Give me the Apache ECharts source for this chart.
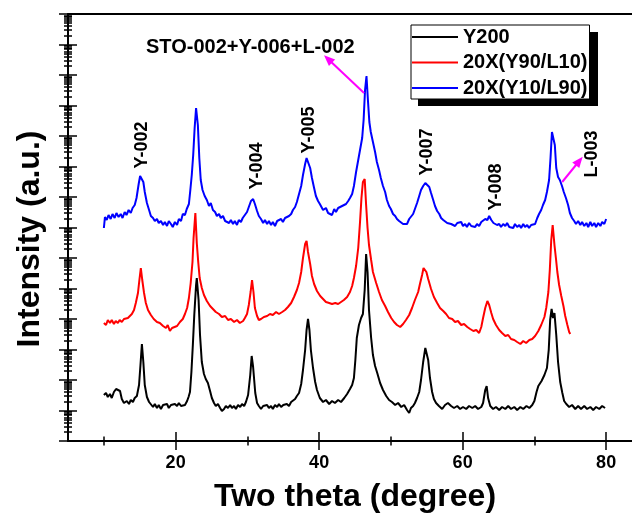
<!DOCTYPE html>
<html>
<head>
<meta charset="utf-8">
<title>XRD patterns</title>
<script src="https://cdn.jsdelivr.net/npm/echarts@6/dist/echarts.min.js"></script>
<style>
  html, body { margin: 0; padding: 0; background: #fff; }
  #chart { width: 632px; height: 513px; }
</style>
</head>
<body>
<div id="chart"></div>
<script>
// Series names (legend order)
const seriesNames = ['Y200', '20X(Y90/L10)', '20X(Y10/L90)'];
const seriesColors = ['#000000', '#ff0000', '#0000ff'];

// Axis ticks
const xMajorTicks = [20, 40, 60, 80];
const xMinorTicks = [10, 30, 50, 70];
const yDecadeCount = 14;

// Intensity (a.u., stacked offsets as plotted) vs two theta
const y200 = [
  [10.0,46],[10.3,48],[10.55,44],[10.85,47],[11.1,43],[11.4,49],[11.7,52],[11.95,53],[12.25,50],[12.5,42],
  [12.8,38],[13.2,40],[13.5,37],[13.75,41],[14.05,39],[14.3,43],[14.6,45],[14.9,56],[15.1,76],[15.3,97],
  [15.5,79],[15.7,56],[16.0,44],[16.3,39],[16.55,37],[16.85,34],[17.1,37],[17.4,33],[17.65,36],[17.95,32],
  [18.25,36],[18.5,34],[18.8,37],[19.05,33],[19.35,36],[19.6,34],[19.9,37],[20.2,35],[20.45,38],[20.75,35],
  [21.0,37],[21.3,36],[21.6,40],[21.8,44],[22.0,49],[22.2,69],[22.4,96],[22.6,126],[22.85,156],[22.95,163],
  [23.2,141],[23.4,106],[23.65,79],[23.95,67],[24.2,62],[24.5,58],[24.8,50],[25.05,43],[25.35,38],[25.6,35],
  [25.9,37],[26.2,33],[26.45,30],[26.75,32],[27.0,35],[27.3,33],[27.6,36],[27.85,33],[28.15,35],[28.4,32],
  [28.7,36],[29.0,34],[29.25,37],[29.55,35],[29.8,39],[30.1,46],[30.4,66],[30.6,85],[30.8,74],[31.1,48],
  [31.35,38],[31.6,35],[31.9,32],[32.2,35],[32.45,33],[32.75,36],[33.0,33],[33.3,35],[33.55,32],[33.85,36],
  [34.15,34],[34.4,37],[34.7,34],[35.0,36],[35.25,34],[35.5,37],[35.8,35],[36.1,39],[36.35,38],[36.65,42],
  [36.9,45],[37.2,48],[37.5,57],[37.75,71],[38.05,91],[38.25,111],[38.45,122],[38.65,111],[38.85,91],[39.15,73],
  [39.45,59],[39.7,51],[40.1,43],[40.55,39],[40.95,41],[41.4,37],[41.8,40],[42.2,38],[42.65,41],[43.05,39],
  [43.5,43],[43.9,47],[44.3,52],[44.6,56],[44.85,63],[45.05,81],[45.25,103],[45.55,116],[45.85,123],[46.1,127],
  [46.35,151],[46.55,187],[46.75,169],[46.95,131],[47.25,103],[47.5,86],[47.8,75],[48.1,68],[48.5,58],[48.9,51],
  [49.35,45],[49.75,41],[50.15,39],[50.6,36],[51.0,38],[51.45,34],[51.85,36],[52.25,31],[52.55,28],[52.8,33],
  [53.1,35],[53.35,38],[53.65,43],[53.95,49],[54.2,61],[54.5,79],[54.8,93],[55.0,94],[55.2,81],[55.45,63],
  [55.75,49],[56.0,42],[56.3,38],[56.7,35],[57.15,32],[57.55,36],[57.95,38],[58.4,35],[58.8,33],[59.25,35],
  [59.65,32],[60.05,34],[60.5,32],[60.9,35],[61.35,33],[61.75,35],[62.15,32],[62.6,34],[62.85,38],[63.15,51],
  [63.35,55],[63.55,43],[63.85,35],[64.25,32],[64.65,34],[65.1,31],[65.5,34],[65.95,32],[66.35,35],[66.75,32],
  [67.2,34],[67.6,31],[68.05,34],[68.45,32],[68.9,35],[69.3,33],[69.7,36],[70.0,40],[70.3,49],[70.55,55],
  [71.0,60],[71.4,66],[71.75,73],[72.0,91],[72.2,121],[72.4,132],[72.6,123],[72.8,128],[73.05,106],[73.3,79],
  [73.6,59],[73.9,48],[74.15,40],[74.45,37],[74.85,34],[75.25,36],[75.7,32],[76.1,35],[76.5,32],[76.95,35],
  [77.35,32],[77.8,34],[78.2,31],[78.6,34],[79.05,32],[79.45,35],[79.85,33]
];

const y90l10 = [
  [10.0,118],[10.3,116],[10.55,121],[10.85,118],[11.1,121],[11.4,117],[11.65,120],[11.95,118],[12.2,121],[12.5,119],
  [12.8,122],[13.05,120],[13.35,123],[13.6,124],[13.9,127],[14.2,131],[14.45,138],[14.75,148],[14.95,161],[15.15,173],
  [15.35,161],[15.6,148],[15.85,138],[16.15,131],[16.55,126],[16.95,122],[17.4,119],[17.8,118],[18.25,115],[18.65,113],
  [18.9,116],[19.2,110],[19.5,113],[19.75,114],[20.2,115],[20.6,119],[21.0,122],[21.3,127],[21.6,133],[21.85,143],
  [22.1,158],[22.35,179],[22.5,203],[22.75,228],[22.95,198],[23.15,179],[23.35,163],[23.65,153],[23.95,146],[24.35,140],
  [24.8,135],[25.2,132],[25.6,129],[26.05,127],[26.45,124],[26.9,125],[27.3,121],[27.7,122],[28.15,119],[28.55,121],
  [28.95,118],[29.4,120],[29.65,123],[29.95,127],[30.2,136],[30.45,149],[30.65,161],[30.85,149],[31.05,133],[31.35,125],
  [31.6,121],[31.9,122],[32.3,124],[32.75,125],[33.15,127],[33.55,126],[34.0,129],[34.4,127],[34.85,129],[35.25,131],
  [35.65,134],[36.1,138],[36.5,144],[36.9,151],[37.2,158],[37.5,169],[37.75,183],[38.05,197],[38.25,200],[38.45,189],
  [38.75,177],[39.0,165],[39.3,157],[39.7,150],[40.15,145],[40.55,142],[40.95,139],[41.4,138],[41.8,137],[42.25,138],
  [42.65,137],[43.05,139],[43.45,141],[43.9,144],[44.3,149],[44.6,155],[44.85,163],[45.15,175],[45.45,193],[45.7,219],
  [45.9,243],[46.1,259],[46.35,262],[46.55,236],[46.75,213],[46.95,196],[47.25,181],[47.5,169],[47.95,158],[48.35,149],
  [48.75,141],[49.2,135],[49.6,129],[50.05,123],[50.45,119],[50.85,116],[51.3,114],[51.7,117],[52.1,121],[52.55,126],
  [52.95,133],[53.35,141],[53.8,149],[54.05,157],[54.35,166],[54.55,173],[54.75,174],[54.95,169],[55.2,162],[55.6,152],
  [56.0,144],[56.45,138],[56.85,133],[57.3,130],[57.7,127],[58.1,123],[58.55,122],[58.95,119],[59.35,120],[59.8,116],
  [60.2,117],[60.65,114],[61.05,112],[61.5,110],[61.9,111],[62.3,108],[62.6,114],[62.85,123],[63.15,133],[63.45,140],
  [63.7,136],[64.0,128],[64.25,122],[64.65,116],[65.1,111],[65.5,108],[65.95,105],[66.35,106],[66.75,102],[67.2,101],
  [67.6,99],[68.05,97],[68.45,100],[68.85,98],[69.3,101],[69.7,102],[70.1,105],[70.55,110],[70.95,116],[71.4,124],
  [71.65,133],[71.95,149],[72.15,171],[72.35,201],[72.55,216],[72.8,196],[73.0,183],[73.2,169],[73.45,156],[73.75,145],
  [74.05,135],[74.3,125],[74.6,116],[74.85,109],[75.0,107]
];

const y10l90 = [
  [10.0,213],[10.15,224],[10.4,221],[10.65,226],[10.95,222],[11.2,227],[11.5,223],[11.75,228],[12.05,224],[12.35,227],
  [12.6,223],[12.9,229],[13.15,226],[13.45,231],[13.75,228],[14.0,233],[14.3,236],[14.55,243],[14.85,257],[15.05,265],
  [15.25,267],[15.5,259],[15.7,249],[16.0,238],[16.3,231],[16.55,225],[16.85,223],[17.1,220],[17.4,222],[17.65,218],
  [17.95,220],[18.25,216],[18.5,219],[18.8,215],[19.05,220],[19.35,217],[19.6,214],[19.9,219],[20.2,216],[20.45,222],
  [20.75,220],[21.0,227],[21.3,226],[21.55,232],[21.85,237],[22.05,251],[22.25,266],[22.45,286],[22.65,313],[22.85,333],
  [23.1,316],[23.3,283],[23.5,261],[23.75,251],[24.05,245],[24.35,241],[24.65,235],[24.9,238],[25.2,231],[25.5,229],
  [25.75,225],[26.05,227],[26.3,223],[26.6,225],[26.9,220],[27.15,222],[27.45,218],[27.7,221],[28.0,217],[28.25,220],
  [28.55,216],[28.8,221],[29.1,219],[29.35,223],[29.65,226],[29.95,229],[30.2,234],[30.5,240],[30.8,242],[31.05,237],
  [31.35,230],[31.6,225],[31.9,222],[32.2,218],[32.45,221],[32.75,217],[33.0,220],[33.3,216],[33.55,219],[33.85,215],
  [34.15,220],[34.4,218],[34.7,222],[34.95,219],[35.25,223],[35.5,221],[35.8,225],[36.1,227],[36.35,231],[36.65,234],
  [36.9,239],[37.2,247],[37.5,255],[37.75,266],[38.05,277],[38.25,283],[38.45,281],[38.75,273],[39.0,263],[39.3,253],
  [39.55,245],[39.85,240],[40.1,237],[40.55,231],[40.95,233],[41.25,228],[41.5,230],[41.8,226],[42.1,232],[42.35,229],
  [42.65,233],[42.9,231],[43.2,235],[43.45,233],[43.75,237],[44.05,240],[44.3,243],[44.6,247],[44.85,255],[45.15,269],
  [45.45,281],[45.7,291],[46.0,303],[46.2,321],[46.4,351],[46.6,365],[46.8,341],[47.0,319],[47.2,309],[47.5,299],
  [47.8,289],[48.05,279],[48.35,271],[48.6,263],[48.9,255],[49.2,249],[49.45,241],[49.75,235],[50.0,232],[50.3,227],
  [50.6,225],[50.85,222],[51.15,220],[51.4,222],[51.7,217],[51.95,219],[52.25,217],[52.55,222],[52.8,220],[53.1,227],
  [53.4,233],[53.65,238],[53.95,245],[54.2,251],[54.5,255],[54.8,258],[55.05,257],[55.35,254],[55.6,248],[55.9,241],
  [56.15,235],[56.45,230],[56.75,227],[57.0,223],[57.3,221],[57.55,222],[57.85,218],[58.1,220],[58.4,217],[58.65,219],
  [58.95,215],[59.25,218],[59.5,216],[59.8,219],[60.05,215],[60.35,217],[60.6,214],[60.9,218],[61.2,215],[61.45,217],
  [61.75,214],[62.0,217],[62.3,215],[62.6,219],[62.85,218],[63.15,222],[63.45,221],[63.7,225],[64.0,221],[64.3,218],
  [64.55,219],[64.8,216],[65.1,217],[65.35,214],[65.65,217],[65.95,215],[66.2,218],[66.5,214],[66.75,216],[67.05,213],
  [67.3,217],[67.6,214],[67.9,216],[68.15,213],[68.45,217],[68.7,214],[69.0,216],[69.25,213],[69.55,216],[69.8,214],
  [70.1,217],[70.4,223],[70.65,227],[70.95,231],[71.2,236],[71.5,241],[71.75,249],[72.05,261],[72.25,283],[72.45,309],
  [72.65,310],[72.85,296],[73.05,273],[73.3,264],[73.55,261],[73.85,255],[74.1,249],[74.4,243],[74.7,236],[74.95,228],
  [75.25,223],[75.55,220],[75.8,217],[76.1,220],[76.4,216],[76.65,219],[76.95,215],[77.25,218],[77.5,214],[77.8,219],
  [78.05,215],[78.35,218],[78.6,214],[78.9,218],[79.2,215],[79.45,219],[79.75,217],[80.0,222]
];

// Log-style decade ticks on the intensity axis (no labels)
const yMajorTicks = [];
const yMinorTicks = [];
for (let k = 0; k <= yDecadeCount; k++) {
  yMajorTicks.push(k);
  if (k < yDecadeCount) {
    for (let m = 2; m <= 9; m++) yMinorTicks.push(k + Math.log10(m));
  }
}

const FONT = '"Liberation Sans", Arial, sans-serif';

const chart = echarts.init(document.getElementById('chart'), null, { renderer: 'canvas' });

// Tick-only axes; ticks cross the axis line, so each set is drawn inside and outside
function tickAxis(extra, values, inside, length) {
  return Object.assign({
    type: 'value',
    axisLine: { show: false, onZero: false },
    axisLabel: { show: false },
    splitLine: { show: false },
    axisTick: {
      show: true,
      inside: inside,
      length: length,
      customValues: values,
      lineStyle: { color: '#000', width: 1.5 }
    }
  }, extra);
}

// the plot frame runs past the right edge of the picture (cropped)
const xCommon = { min: 5, max: 85, position: 'bottom' };
const yCommon = { min: 0, max: yDecadeCount, position: 'left' };

const option = {
  animation: false,
  backgroundColor: '#fff',
  grid: {
    left: 68, top: 14, width: 574, height: 427,
    outerBoundsMode: 'none',
    containLabel: false,
    show: false
  },
  legend: {
    data: seriesNames,
    left: 411, top: 25,
    orient: 'vertical',
    icon: 'rect',
    itemWidth: 46, itemHeight: 2, itemGap: 5.5,
    padding: [2, 2, 1, 1],
    backgroundColor: '#fff',
    borderColor: '#000', borderWidth: 1,
    z: 5,
    textStyle: { fontFamily: FONT, fontWeight: 'bold', fontSize: 20, lineHeight: 20, color: '#000', padding: 0 },
    selectedMode: false
  },
  xAxis: [
    tickAxis(Object.assign({
      name: 'Two theta (degree)',
      nameLocation: 'middle',
      nameGap: 40,
      nameTextStyle: { fontFamily: FONT, fontWeight: 'bold', fontSize: 32, color: '#000' },
      axisLine: { show: true, onZero: false, lineStyle: { color: '#000', width: 2 } },
      axisLabel: {
        show: true, customValues: xMajorTicks, margin: 13,
        fontFamily: FONT, fontWeight: 'bold', fontSize: 18, color: '#000'
      }
    }, xCommon), xMajorTicks, false, 9),
    tickAxis(Object.assign({}, xCommon), xMajorTicks, true, 9),
    tickAxis(Object.assign({}, xCommon), xMinorTicks, false, 4.5),
    tickAxis(Object.assign({}, xCommon), xMinorTicks, true, 4.5),
    // top frame line
    {
      type: 'value', min: 5, max: 85, position: 'top',
      axisLine: { show: true, onZero: false, lineStyle: { color: '#000', width: 2 } },
      axisTick: { show: false }, axisLabel: { show: false }, splitLine: { show: false }
    }
  ],
  yAxis: [
    tickAxis(Object.assign({
      name: 'Intensity (a.u.)',
      nameLocation: 'middle',
      nameGap: 22,
      nameTextStyle: { fontFamily: FONT, fontWeight: 'bold', fontSize: 32, color: '#000', padding: [0, 23, 0, 0] },
      axisLine: { show: true, onZero: false, lineStyle: { color: '#000', width: 2 } }
    }, yCommon), yMajorTicks, false, 9),
    tickAxis(Object.assign({}, yCommon), yMajorTicks, true, 9),
    tickAxis(Object.assign({}, yCommon), yMinorTicks, false, 4),
    tickAxis(Object.assign({}, yCommon), yMinorTicks, true, 4),
    // Data axis for the stacked patterns
    { type: 'value', min: 0, max: 427, show: false, position: 'left' }
  ],
  series: [y200, y90l10, y10l90].map((data, i) => ({
    name: seriesNames[i],
    type: 'line',
    xAxisIndex: 0,
    yAxisIndex: 4,
    data: data,
    symbol: 'none',
    smooth: false,
    lineStyle: { color: seriesColors[i], width: 2 },
    itemStyle: { color: seriesColors[i] },
    emphasis: { disabled: true },
    markLine: i === 2 ? {
      silent: true,
      symbol: ['none', 'triangle'],
      symbolSize: [9, 11],
      label: { show: false },
      lineStyle: { color: '#ff00ff', width: 2, type: 'solid' },
      emphasis: { disabled: true },
      data: [
        [{ coord: [46.26, 348] }, { coord: [41.24, 382] }],
        [{ coord: [73.88, 259] }, { coord: [76.25, 280] }]
      ]
    } : undefined
  })),
  graphic: [
    // legend drop shadow
    { type: 'rect', z: 1, shape: { x: 418, y: 32, width: 180, height: 74 }, style: { fill: '#000' } },
    { type: 'text', left: 146, top: 37, style: { text: 'STO-002+Y-006+L-002', font: 'bold 20px ' + FONT, fill: '#000' } },
    { type: 'text', x: 142, y: 145, rotation: Math.PI / 2, style: { text: 'Y-002', font: 'bold 18px ' + FONT, fill: '#000', align: 'center', verticalAlign: 'middle' } },
    { type: 'text', x: 257, y: 166, rotation: Math.PI / 2, style: { text: 'Y-004', font: 'bold 18px ' + FONT, fill: '#000', align: 'center', verticalAlign: 'middle' } },
    { type: 'text', x: 309, y: 130, rotation: Math.PI / 2, style: { text: 'Y-005', font: 'bold 18px ' + FONT, fill: '#000', align: 'center', verticalAlign: 'middle' } },
    { type: 'text', x: 427, y: 152, rotation: Math.PI / 2, style: { text: 'Y-007', font: 'bold 18px ' + FONT, fill: '#000', align: 'center', verticalAlign: 'middle' } },
    { type: 'text', x: 496, y: 187, rotation: Math.PI / 2, style: { text: 'Y-008', font: 'bold 18px ' + FONT, fill: '#000', align: 'center', verticalAlign: 'middle' } },
    { type: 'text', x: 592, y: 154, rotation: Math.PI / 2, style: { text: 'L-003', font: 'bold 18px ' + FONT, fill: '#000', align: 'center', verticalAlign: 'middle' } }
  ]
};

chart.setOption(option);
</script>
</body>
</html>
